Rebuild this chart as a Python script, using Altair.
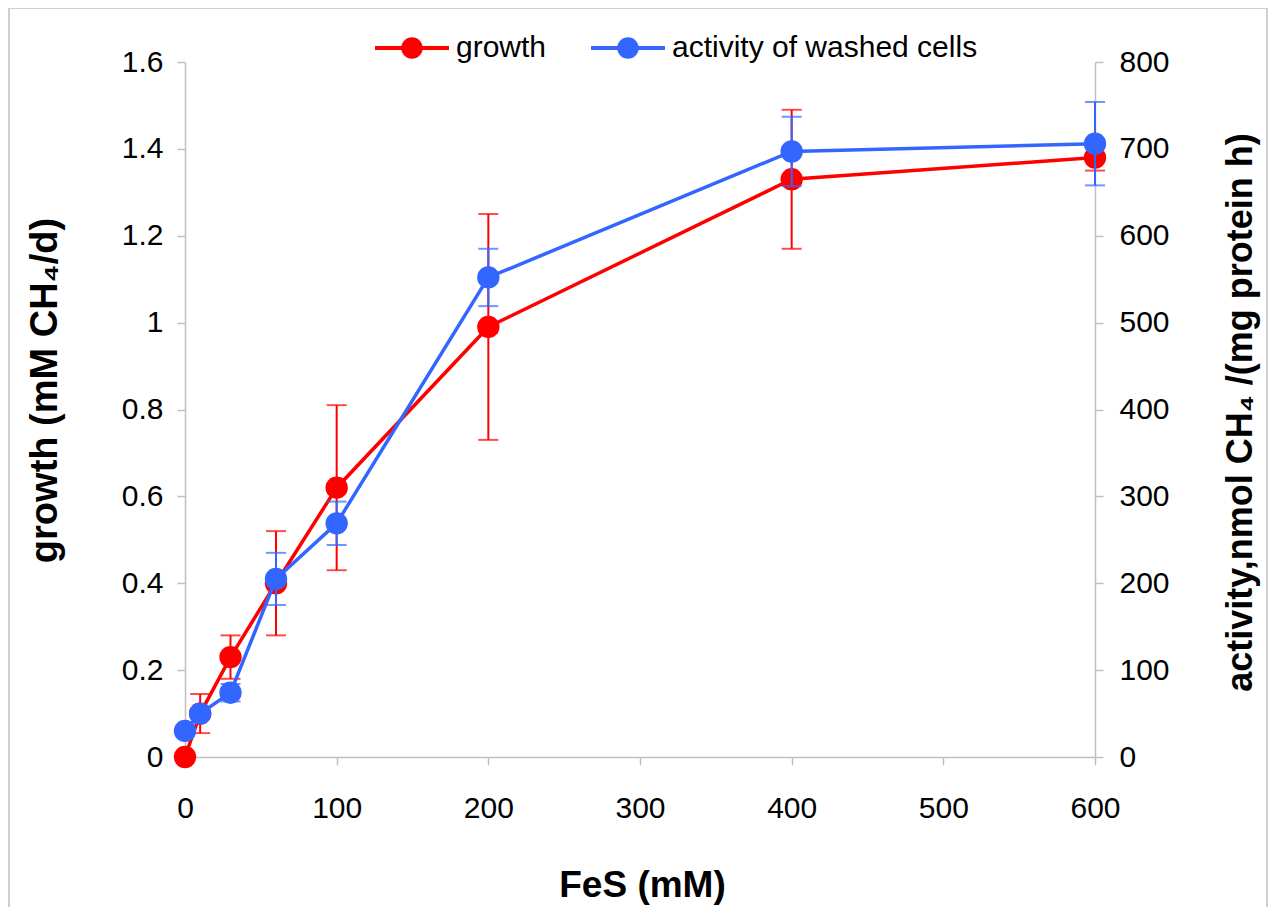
import altair as alt
import pandas as pd

fes = [0, 10, 30, 60, 100, 200, 400, 600]
growth = [0.0, 0.10, 0.23, 0.40, 0.62, 0.99, 1.33, 1.38]
growth_err = [0.0, 0.045, 0.05, 0.12, 0.19, 0.26, 0.16, 0.03]
activity = [30, 50, 74, 205, 269, 552, 697, 706]
activity_err = [3, 5, 10, 30, 25, 33, 40, 48]
series = ["growth", "activity of washed cells"]
colors = ["#ff0000", "#3366ff"]
x_ticks = [0, 100, 200, 300, 400, 500, 600]
left_ticks = [0, 0.2, 0.4, 0.6, 0.8, 1.0, 1.2, 1.4, 1.6]
right_ticks = [0, 100, 200, 300, 400, 500, 600, 700, 800]

gdf = pd.DataFrame({
    "FeS": fes, "value": growth,
    "lo": [v - e for v, e in zip(growth, growth_err)],
    "hi": [v + e for v, e in zip(growth, growth_err)],
    "series": series[0],
})
adf = pd.DataFrame({
    "FeS": fes, "value": activity,
    "lo": [v - e for v, e in zip(activity, activity_err)],
    "hi": [v + e for v, e in zip(activity, activity_err)],
    "series": series[1],
})

FONT = "Liberation Sans"

x_axis = alt.Axis(values=x_ticks, title="FeS (mM)", labelPadding=28, titleFontSize=37,
                  labelFlush=False,
                  titleX=457, titleY=128, titleBaseline="middle", titleAlign="center")
def xenc():
    return alt.X("FeS:Q", scale=alt.Scale(domain=[0, 600], nice=False), axis=x_axis)

left_axis = alt.Axis(orient="left", values=left_ticks, format=".1~f",
                     title="growth (mM CH₄/d)", labelPadding=14, titleFontSize=38,
                     labelFlush=False,
                     titleAngle=270, titleX=-140, titleY=328,
                     titleBaseline="middle", titleAlign="center")
right_axis = alt.Axis(orient="right", values=right_ticks, format="d",
                      title="activity,nmol CH₄ /(mg protein h)", labelPadding=16,
                      titleFontSize=36, labelFlush=False,
                      titleAngle=270, titleX=145, titleY=350,
                      titleBaseline="middle", titleAlign="center")

def yenc(field, dom, axis):
    return alt.Y(f"{field}:Q", scale=alt.Scale(domain=dom, nice=False), axis=axis)

legend_path = ("M-1,-0.054L1,-0.054L1,0.054L-1,0.054Z"
               "M-0.29,0A0.29,0.29,0,1,1,0.29,0A0.29,0.29,0,1,1,-0.29,0Z")

color_enc = alt.Color("series:N",
                      scale=alt.Scale(domain=series, range=colors),
                      legend=alt.Legend(title=None, orient="none", direction="horizontal",
                                        legendX=189, legendY=-52,
                                        symbolType=legend_path, symbolSize=5476,
                                        labelFontSize=30, labelFont=FONT, labelColor="black",
                                        labelLimit=600,
                                        labelOffset=6, columnPadding=43))

def group(df, color, dom, axis):
    base = alt.Chart(df)
    rule = base.mark_rule(color=color, strokeWidth=2).encode(
        x=xenc(), y=yenc("lo", dom, axis), y2="hi:Q")
    cap_hi = base.mark_tick(color=color, orient="horizontal", size=20, thickness=2).encode(
        x=xenc(), y=yenc("hi", dom, axis))
    cap_lo = base.mark_tick(color=color, orient="horizontal", size=20, thickness=2).encode(
        x=xenc(), y=yenc("lo", dom, axis))
    line = base.mark_line(color=color, strokeWidth=3.5).encode(
        x=xenc(), y=yenc("value", dom, axis))
    pts = base.mark_point(filled=True, size=500, opacity=1).encode(
        x=xenc(), y=yenc("value", dom, axis), color=color_enc)
    return alt.layer(rule, cap_hi, cap_lo, line, pts)

g_layer = group(gdf, colors[0], [0, 1.6], left_axis)
a_layer = group(adf, colors[1], [0, 800], right_axis)

frame = alt.Chart(pd.DataFrame({"k": [0]})).mark_rect(
    filled=False, stroke="#d0d0d0", strokeWidth=2).encode(
    x=alt.value(-176), x2=alt.value(1082), y=alt.value(-54), y2=alt.value(900))

chart = alt.layer(frame, g_layer, a_layer).resolve_scale(y="independent").properties(
    width=910, height=695,
    padding={"left": 177, "top": 54, "right": 174, "bottom": 150},
    autosize=alt.AutoSizeParams(type="none"),
).configure_view(stroke=None).configure_axis(
    grid=False, domainColor="#c0c0c0", tickColor="#c0c0c0", tickSize=8,
    domainWidth=1.5, tickWidth=1.5,
    labelFont=FONT, labelFontSize=30, labelColor="black",
    titleFont=FONT, titleFontWeight="bold", titleColor="black",
)

chart.save("out.html", embed_options={"renderer": "svg", "actions": False})
